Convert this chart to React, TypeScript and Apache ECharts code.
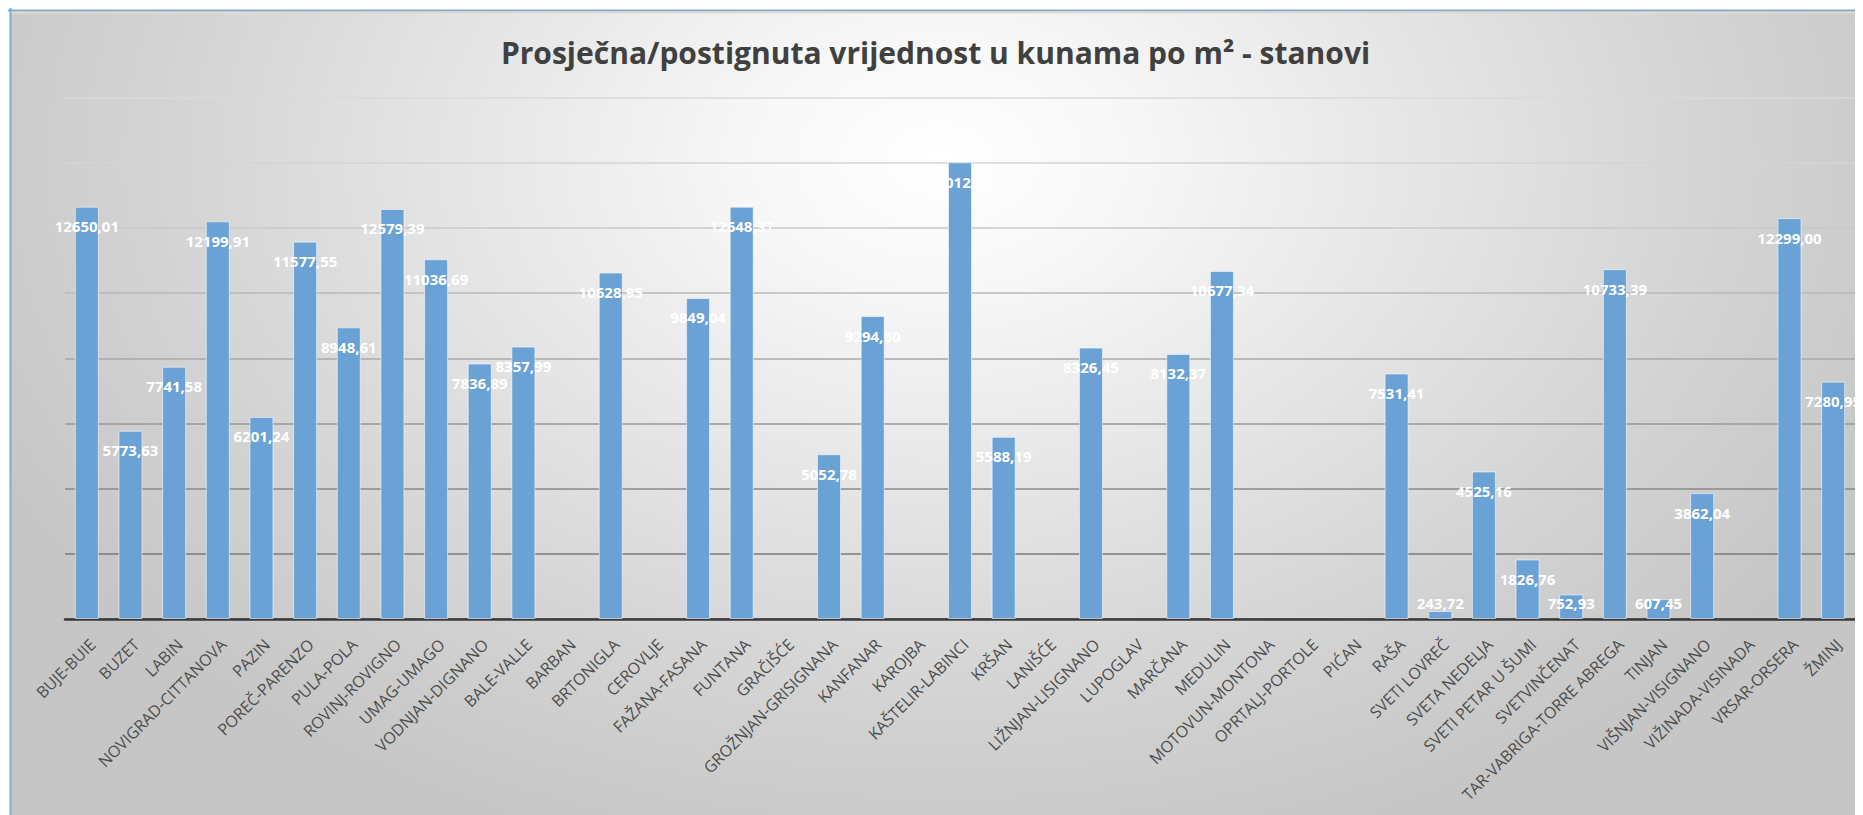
import React, { useEffect, useRef } from 'react';
import * as echarts from 'echarts';

const titleText = 'Prosječna/postignuta vrijednost u kunama po m² - stanovi';

const categories: string[] = [
  'BUJE-BUIE', 'BUZET', 'LABIN', 'NOVIGRAD-CITTANOVA', 'PAZIN', 'POREČ-PARENZO',
  'PULA-POLA', 'ROVINJ-ROVIGNO', 'UMAG-UMAGO', 'VODNJAN-DIGNANO', 'BALE-VALLE',
  'BARBAN', 'BRTONIGLA', 'CEROVLJE', 'FAŽANA-FASANA', 'FUNTANA', 'GRAČIŠĆE',
  'GROŽNJAN-GRISIGNANA', 'KANFANAR', 'KAROJBA', 'KAŠTELIR-LABINCI', 'KRŠAN',
  'LANIŠĆE', 'LIŽNJAN-LISIGNANO', 'LUPOGLAV', 'MARČANA', 'MEDULIN',
  'MOTOVUN-MONTONA', 'OPRTALJ-PORTOLE', 'PIĆAN', 'RAŠA', 'SVETI LOVREČ',
  'SVETA NEDELJA', 'SVETI PETAR U ŠUMI', 'SVETVINČENAT', 'TAR-VABRIGA-TORRE ABREGA',
  'TINJAN', 'VIŠNJAN-VISIGNANO', 'VIŽINADA-VISINADA', 'VRSAR-ORSERA', 'ŽMINJ',
];

const values: (number | null)[] = [
  12650.01, 5773.63, 7741.58, 12199.91, 6201.24, 11577.55,
  8948.61, 12579.39, 11036.69, 7836.89, 8357.99,
  null, 10628.95, null, 9849.04, 12648.37, null,
  5052.78, 9294.60, null, 14012.00, 5588.19,
  null, 8326.45, null, 8132.37, 10677.34,
  null, null, null, 7531.41, 243.72,
  4525.16, 1826.76, 752.93, 10733.39,
  607.45, 3862.04, null, 12299.00, 7280.95,
];

const yMin = 0;
const yMax = 16000;
const yInterval = 2000;

const gridColors = ['#7a7a7a', '#7a7a7a', '#888888', '#979797', '#a8a8a8', '#b9b9b9', '#c9c9c9', '#d4d4d4', '#dadada'];

export default function App() {
  const ref = useRef<HTMLDivElement>(null);

  useEffect(() => {
    document.body.style.overflow = 'hidden';
    const chart = echarts.init(ref.current!, null, { renderer: 'svg' });
    const fmt = (v: number) => v.toFixed(2).replace('.', ',');
    const data = values.map((v) =>
      v == null
        ? null
        : v < 1200
        ? { value: v, label: { position: 'insideBottom', distance: 9 } }
        : v
    );
    chart.setOption({
      animation: false,
      backgroundColor: 'transparent',
      title: {
        text: titleText,
        left: 'center',
        top: 24,
        padding: [5, 5, 5, 21],
        textStyle: {
          fontFamily: 'Open Sans',
          fontWeight: 'bold',
          fontSize: 30,
          color: '#404040',
        },
      },
      grid: { left: 57, right: 8, top: 89.5, bottom: 196, containLabel: false, outerBoundsMode: 'none' },
      xAxis: {
        type: 'category',
        data: categories,
        axisLine: { show: true, lineStyle: { color: '#3a3a3a', width: 2.5 } },
        axisTick: { show: false },
        axisLabel: {
          rotate: 45,
          margin: 17,
          interval: 0,
          verticalAlign: 'top',
          fontFamily: 'Open Sans',
          fontSize: 16,
          color: '#4d4d4d',
        },
      },
      yAxis: {
        type: 'value',
        min: yMin,
        max: yMax,
        interval: yInterval,
        axisLine: { show: false },
        axisTick: { show: false },
        axisLabel: { show: false },
        splitLine: { show: true, lineStyle: { color: gridColors, width: 1.5 } },
      },
      series: [
        {
          type: 'bar',
          data,
          barWidth: 24,
          itemStyle: {
            color: '#6aa2d6',
            borderColor: 'rgba(255,255,255,0.55)',
            borderWidth: 1,
          },
          label: {
            show: true,
            position: 'insideTop',
            distance: 12,
            formatter: (p: any) => fmt(p.value),
            color: '#ffffff',
            fontFamily: 'Open Sans',
            fontWeight: 'bold',
            fontSize: 15,
          },
          labelLayout: { hideOverlap: false },
        },
      ],
      graphic: [
        { type: 'line', shape: { x1: 0, y1: 2.5, x2: 1855, y2: 2.5 }, style: { stroke: '#7eabd6', lineWidth: 2 }, silent: true },
        { type: 'line', shape: { x1: 3.5, y1: 4.5, x2: 1855, y2: 4.5 }, style: { stroke: '#e2d9d2', lineWidth: 2 }, silent: true },
        { type: 'line', shape: { x1: 2.5, y1: 0, x2: 2.5, y2: 807 }, style: { stroke: '#7eabd6', lineWidth: 2 }, silent: true },
      ],
    });
    return () => chart.dispose();
  }, []);

  return (
    <div style={{ position: 'relative', width: 1855, height: 807, background: '#ffffff', overflow: 'hidden' }}>
      <div
        style={{
          position: 'absolute',
          left: 2,
          top: 2,
          right: 0,
          bottom: 0,
          background:
            'radial-gradient(ellipse 1050px 720px at 930px 150px, #ffffff 0%, #f7f7f7 18%, #e6e6e6 45%, #d3d3d3 75%, #c6c6c6 100%)',
        }}
      />
      <div ref={ref} style={{ position: 'absolute', left: 0, top: 0, width: 1855, height: 807 }} />
    </div>
  );
}
